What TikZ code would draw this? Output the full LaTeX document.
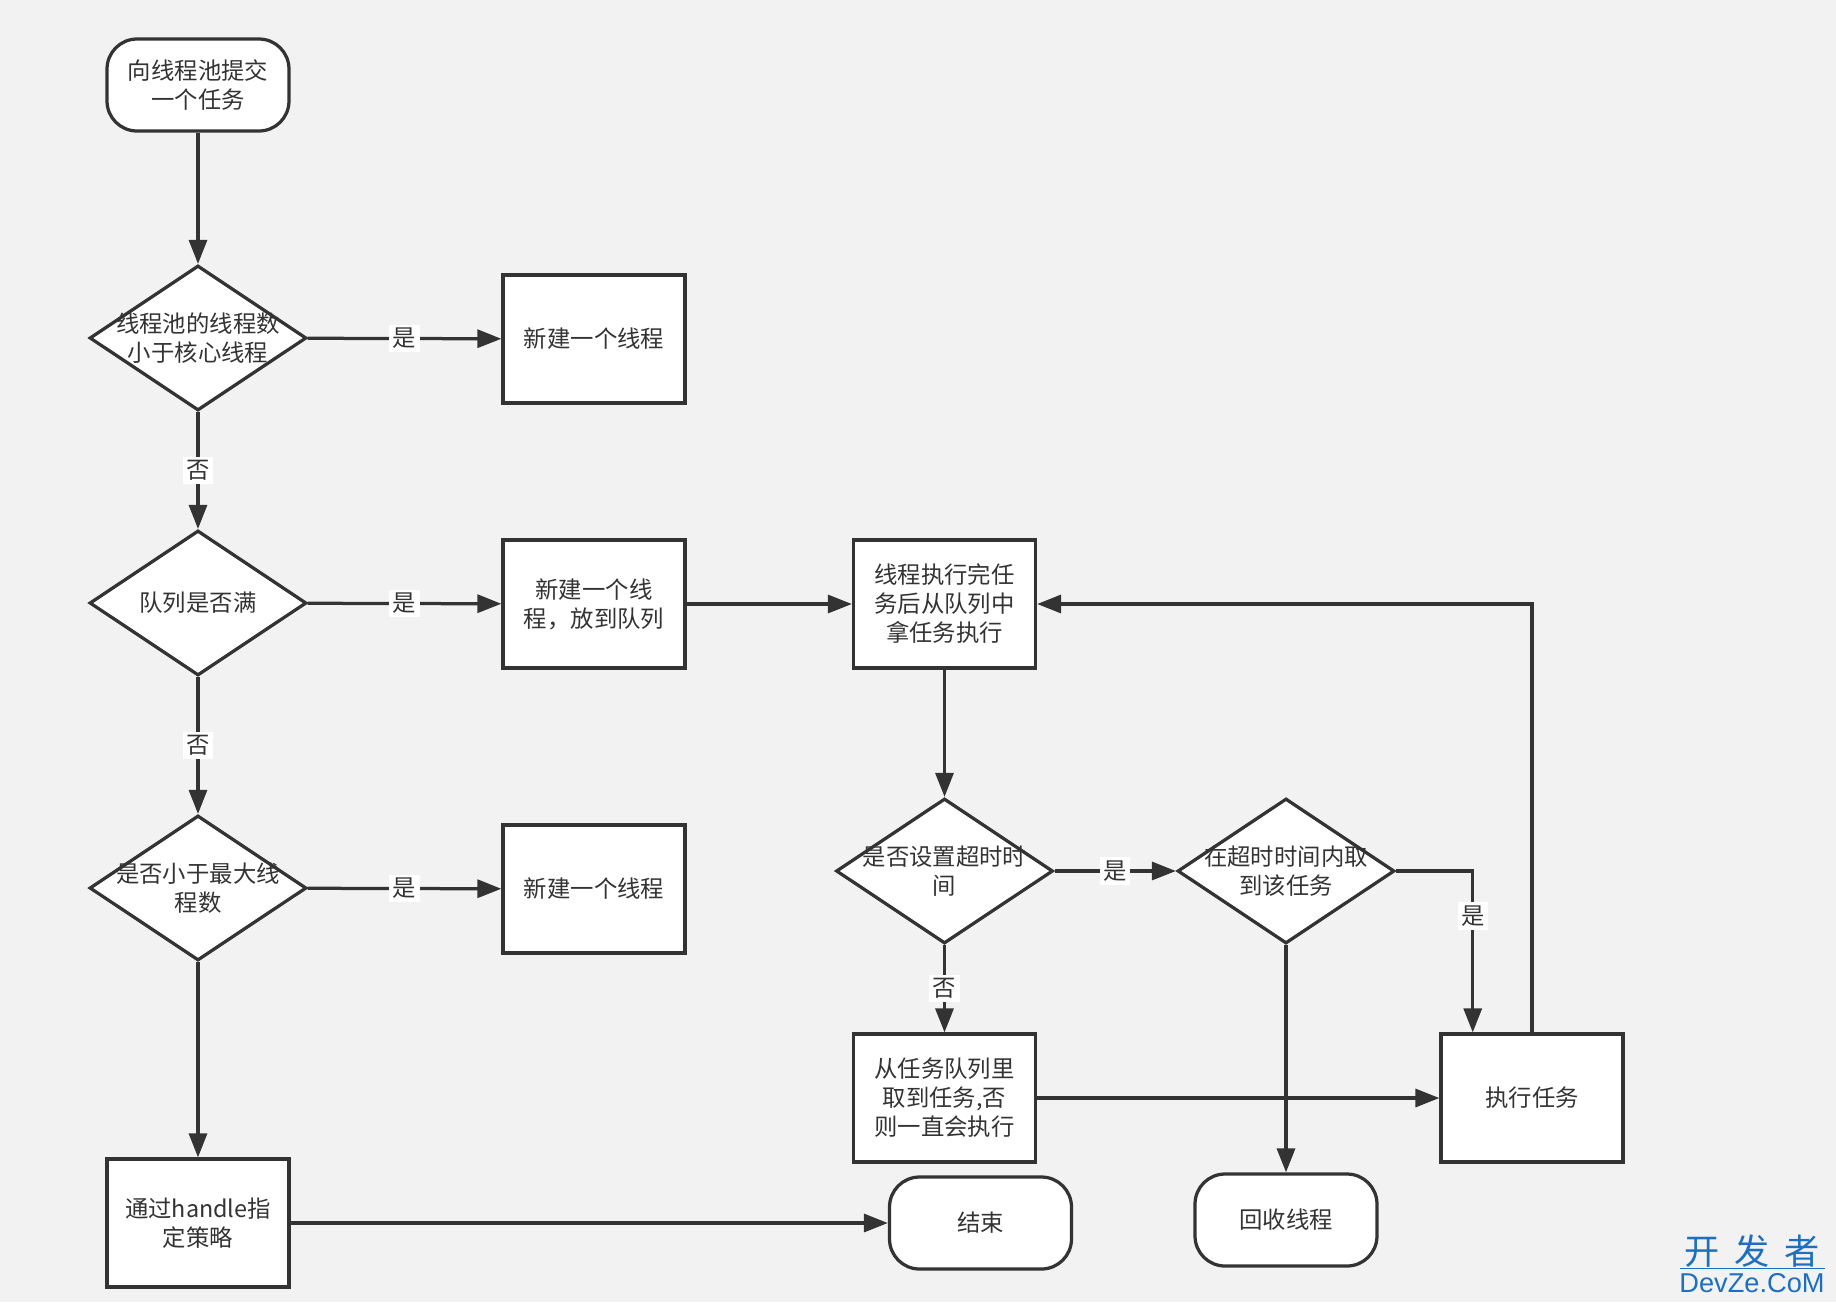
\documentclass[tikz,border=0pt]{standalone}
\usepackage{fontspec}
\setmainfont{Noto Sans CJK SC}
\newfontfamily\wmfont{Liberation Sans}
\usetikzlibrary{arrows.meta,shapes.geometric,calc}

\definecolor{ink}{HTML}{333333}
\definecolor{paper}{HTML}{F2F2F2}
\definecolor{wmblue}{HTML}{1E6FBF}

\tikzset{
  proc/.style={draw=ink, fill=white, line width=0.065cm, minimum width=3.64cm, minimum height=2.56cm, align=center, inner sep=2pt},
  term/.style={draw=ink, fill=white, line width=0.065cm, rounded corners=0.6cm, minimum width=3.64cm, minimum height=1.84cm, align=center},
  decide/.style={draw=ink, fill=white, line width=0.065cm, diamond, minimum width=4.34cm, minimum height=2.9cm, inner sep=0pt},
  flow/.style={draw=ink, line width=0.065cm, -{Triangle[length=0.48cm,width=0.36cm]}},
  lbl/.style={fill=white, inner sep=2pt, text=ink},
}

\begin{document}
\begin{tikzpicture}[x=0.02cm, y=-0.02cm, font=\fontsize{13.3}{16.5}\selectfont, text=ink]
    \fill[paper] (0,0) rectangle (1836,1302);
    \useasboundingbox (0,0) rectangle (1836,1302);

    % left column
    \node[term] (submit) at (198,85) {向线程池提交\\一个任务};
    \node[decide, label={[name=coret, align=center]center:线程池的线程数\\小于核心线程}] (core) at (198,338) {};
    \node[proc] (newcore) at (594,339) {新建一个线程};
    \node[decide, label={[name=fullt, align=center]center:队列是否满}] (full) at (198,603) {};
    \node[proc] (enqueue) at (594,604) {新建一个线\\程，放到队列};
    \node[decide, label={[name=maxt, align=center]center:是否小于最大线\\程数}] (max) at (198,888) {};
    \node[proc] (newmax) at (594,889) {新建一个线程};
    \node[proc] (reject) at (198,1223) {通过handle指\\定策略};

    % worker loop
    \node[proc] (take) at (944.5,604) {线程执行完任\\务后从队列中\\拿任务执行};
    \node[decide, label={[name=timeoutt, align=center]center:是否设置超时时\\间}] (timeout) at (944.5,871) {};
    \node[decide, label={[name=pollt, align=center]center:在超时时间内取\\到该任务}] (poll) at (1286,871) {};
    \node[proc] (wait) at (944.5,1098) {从任务队列里\\取到任务,否\\则一直会执行};
    \node[proc] (run) at (1532,1098) {执行任务};
    \node[term] (finish) at (980.5,1223) {结束};
    \node[term] (recycle) at (1286,1220) {回收线程};

    % connectors
    \draw[flow] (submit) -- (core);
    \draw[flow] (core) -- node[lbl]{是} (newcore);
    \draw[flow] (core) -- node[lbl]{否} (full);
    \draw[flow] (full) -- node[lbl]{是} (enqueue);
    \draw[flow] (enqueue) -- (take);
    \draw[flow] (full) -- node[lbl]{否} (max);
    \draw[flow] (max) -- node[lbl]{是} (newmax);
    \draw[flow] (max) -- (reject);
    \draw[flow] (reject) -- (finish);
    \draw[flow] (take) -- (timeout);
    \draw[flow] (timeout) -- node[lbl]{是} (poll);
    \draw[flow] (timeout) -- node[lbl]{否} (wait);
    \draw[flow] (poll.east) -| node[lbl, pos=0.64]{是} ($(run.north west)!0.18!(run.north east)$);
    \draw[flow] (poll) -- (recycle);
    \draw[flow] (wait) -- (run);
    \draw[flow] (run.north) |- (take.east);

    % watermark
    \node[text=wmblue, font=\fontsize{20}{20}\selectfont, anchor=base, inner sep=0pt] (wmcn) at (1752,1264) {开\hspace{0.42em}发\hspace{0.42em}者};
    \draw[wmblue, line width=0.5pt] (1680,1268) -- (1825,1268);
    \node[text=wmblue, font=\wmfont\fontsize{15.5}{15.5}\selectfont, anchor=base, inner sep=0pt] (wmen) at (1752,1292) {DevZe.CoM};
\end{tikzpicture}
\end{document}
